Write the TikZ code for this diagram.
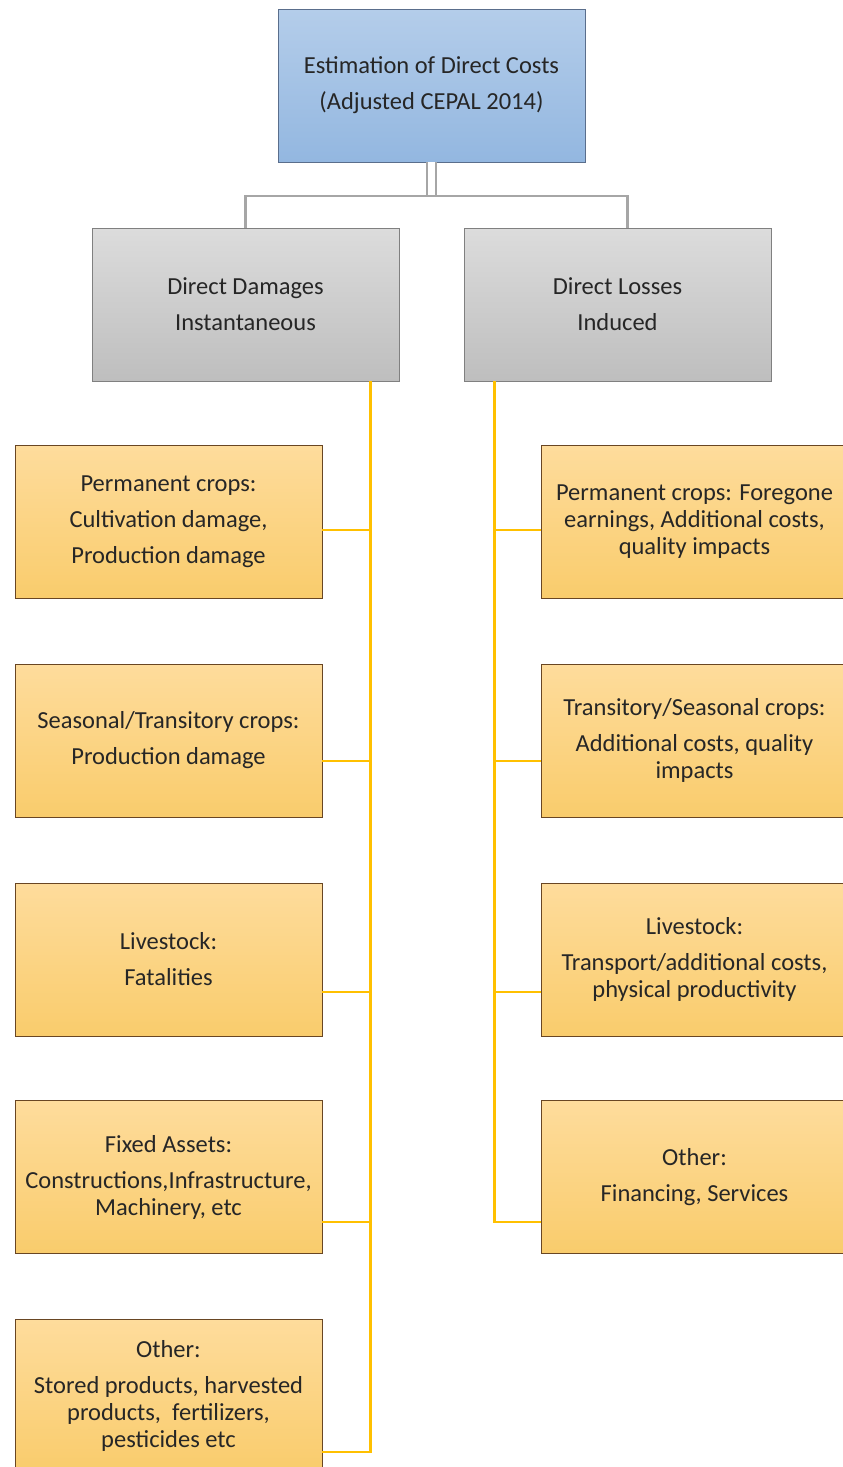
\documentclass[tikz,border=0pt]{standalone}
\usepackage{fontspec}
\setmainfont{Carlito}
\definecolor{txt}{HTML}{262626}
\definecolor{blueT}{HTML}{B4CDEA}
\definecolor{blueB}{HTML}{93B7E0}
\definecolor{blueD}{HTML}{5A6E8C}
\definecolor{grayT}{HTML}{DCDCDC}
\definecolor{grayB}{HTML}{BEBEBE}
\definecolor{goldT}{HTML}{FEDC9C}
\definecolor{goldB}{HTML}{F9CC6C}
\definecolor{goldL}{HTML}{FFC000}
\tikzset{
  box/.style={draw=black!55, line width=0.9pt, minimum width=307pt, minimum height=153pt,
    align=center, text=txt, font=\fontsize{24.5}{27}\selectfont, inner sep=0pt},
  headbox/.style={box, top color=blueT, bottom color=blueB, draw=blueD},
  midbox/.style={box, top color=grayT, bottom color=grayB, draw=black!50},
  itembox/.style={box, top color=goldT, bottom color=goldB, draw=black!45!brown},
  gline/.style={draw=black!35, line width=2.5pt},
  dline/.style={draw=black!35, double=white, double distance=7pt, line width=2pt},
  yline/.style={draw=goldL, line width=2.5pt},
}
\begin{document}
\begin{tikzpicture}[x=1pt,y=-1pt]
\useasboundingbox[fill=white] (0,0) rectangle (843,1467);

% top
\node[headbox] (top) at (431.5,85.5) {Estimation of Direct Costs\\[9pt](Adjusted CEPAL 2014)};

% second row
\node[midbox] (dmg) at (245.5,304.5) {Direct Damages\\[9pt]Instantaneous};
\node[midbox] (loss) at (617.5,304.5) {Direct Losses\\[9pt]Induced};

% damages column
\node[itembox] (l1) at (168.5,522) {Permanent crops:\\[9pt]Cultivation damage,\\[9pt]Production damage};
\node[itembox] (l2) at (168.5,740.5) {Seasonal/Transitory crops:\\[9pt]Production damage};
\node[itembox] (l3) at (168.5,959.5) {Livestock:\\[9pt]Fatalities};
\node[itembox] (l4) at (168.5,1177) {Fixed Assets:\\[9pt]Constructions,Infrastructure,\\Machinery, etc};
\node[itembox] (l5) at (168.5,1395.5) {Other:\\[9pt]Stored products, harvested\\products,\ \ fertilizers,\\pesticides etc};

% losses column
\node[itembox] (r1) at (694.5,522) {Permanent crops: Foregone\\earnings, Additional costs,\\quality impacts};
\node[itembox] (r2) at (694.5,740.5) {Transitory/Seasonal crops:\\[9pt]Additional costs, quality\\impacts};
\node[itembox] (r3) at (694.5,959.5) {Livestock:\\[9pt]Transport/additional costs,\\physical productivity};
\node[itembox] (r4) at (694.5,1177) {Other:\\[9pt]Financing, Services};

% ========== connectors ==========
\coordinate (fork) at (436,196);
\draw[dline] (top.south) -- (top.south |- fork);
\draw[gline] (dmg.north) |- (fork) -| ([xshift=10pt]loss.north);

% damages
\draw[yline] ([xshift=-29pt]dmg.south east) |- ([yshift=-56.5pt]l5.east);
\draw[yline] ([yshift=-8pt]l1.east) -- +(48,0);
\draw[yline] ([yshift=-20.5pt]l2.east) -- +(48,0);
\draw[yline] ([yshift=-32.5pt]l3.east) -- +(48,0);
\draw[yline] ([yshift=-45pt]l4.east) -- +(48,0);

% losses
\draw[yline] ([xshift=31pt]loss.south west) |- ([yshift=-45pt]r4.west);
\draw[yline] ([yshift=-8pt]r1.west) -- +(-46,0);
\draw[yline] ([yshift=-20.5pt]r2.west) -- +(-46,0);
\draw[yline] ([yshift=-32.5pt]r3.west) -- +(-46,0);
\end{tikzpicture}
\end{document}
